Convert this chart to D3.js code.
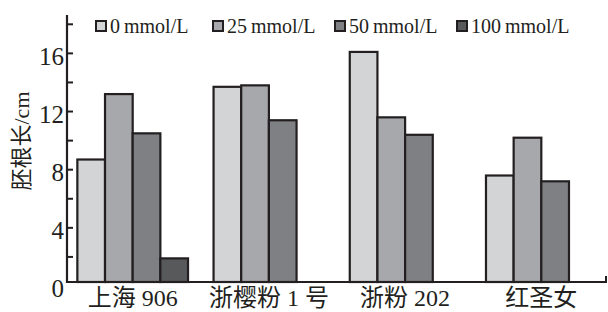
<!DOCTYPE html>
<html>
<head>
<meta charset="utf-8">
<script src="https://cdn.jsdelivr.net/npm/d3@7"></script>
<style>
  body { margin: 0; background: #fff; }
  svg { display: block; }
  text { font-family: "Liberation Serif", "Noto Sans CJK SC", serif; fill: #231f20; }
</style>
</head>
<body>
<div id="chart"></div>
<script>
// varieties along the x axis
const categories = ["上海 906", "浙樱粉 1 号", "浙粉 202", "红圣女"];
// NaCl treatments (legend)
const series = ["0\u2009mmol/L", "25\u2009mmol/L", "50\u2009mmol/L", "100\u2009mmol/L"];
// radicle length, cm, one array per treatment
const values0 = [8.7, 13.7, 16.1, 7.6];
const values25 = [13.2, 13.8, 11.6, 10.2];
const values50 = [10.5, 11.4, 10.4, 7.2];
const values100 = [1.9, 0, 0, 0];
const majorTicks = [0, 4, 8, 12, 16];
const minorTicks = [2, 6, 10, 14, 18];

const fills = ["#d3d4d6", "#a7a8ab", "#7f8084", "#58595b"];
const ink = "#231f20";

const width = 608, height = 312;
const axisX = 67, baseY = 282;

const svg = d3.select("#chart").append("svg")
    .attr("width", width)
    .attr("height", height);

let allValues = [values0, values25, values50, values100];

// bars sit on the drawn axis, which is a touch above the true zero of the scale
let y = d3.scaleLinear().domain([0, 18]).range([286, 24.3]);

let x = d3.scaleBand()
    .domain(categories)
    .range([axisX, 607])
    .paddingInner(0.1875)
    .paddingOuter(0.076);

let xSub = d3.scaleBand()
    .domain(d3.range(series.length))
    .range([0, x.bandwidth()]);

// bars
let groups = svg.append("g").attr("class", "bars")
    .selectAll("g")
    .data(categories)
    .join("g")
    .attr("transform", d => `translate(${x(d)},0)`);

groups.selectAll("rect")
    .data((c, i) => allValues.map((vals, s) => ({ s: s, v: vals[i] })).filter(d => d.v > 0))
    .join("rect")
    .attr("x", d => xSub(d.s))
    .attr("y", d => y(d.v))
    .attr("width", xSub.bandwidth())
    .attr("height", d => baseY - y(d.v))
    .attr("fill", d => fills[d.s])
    .attr("stroke", ink)
    .attr("stroke-width", 2.2);

// y axis
let yAxis = svg.append("g").attr("class", "y-axis");
yAxis.append("line")
    .attr("x1", axisX).attr("x2", axisX)
    .attr("y1", 15).attr("y2", baseY + 1)
    .attr("stroke", ink).attr("stroke-width", 2.2);

yAxis.selectAll("line.tick")
    .data(majorTicks.filter(t => t > 0).concat(minorTicks))
    .join("line")
    .attr("class", "tick")
    .attr("x1", axisX).attr("x2", axisX + 6)
    .attr("y1", d => y(d)).attr("y2", d => y(d))
    .attr("stroke", ink).attr("stroke-width", 2);

yAxis.selectAll("text")
    .data(majorTicks)
    .join("text")
    .attr("x", axisX - 3)
    .attr("y", d => y(d) + 3)
    .attr("dy", "0.33em")
    .attr("text-anchor", "end")
    .attr("font-size", 25)
    .text(d => d);

svg.append("text")
    .attr("transform", "translate(29,141) rotate(-90)")
    .attr("text-anchor", "middle")
    .attr("font-size", 22)
    .text("胚根长/cm");

// x axis
let xAxis = svg.append("g").attr("class", "x-axis");
xAxis.append("line")
    .attr("x1", axisX - 1).attr("x2", 607)
    .attr("y1", baseY).attr("y2", baseY)
    .attr("stroke", ink).attr("stroke-width", 2.2);
xAxis.append("line")
    .attr("x1", 606).attr("x2", 606)
    .attr("y1", baseY - 6).attr("y2", baseY)
    .attr("stroke", ink).attr("stroke-width", 2);

xAxis.selectAll("text")
    .data(categories)
    .join("text")
    .attr("x", d => x(d) + x.bandwidth() / 2)
    .attr("y", 306)
    .attr("text-anchor", "middle")
    .attr("font-size", 24)
    .text(d => d);

// legend
let legendX = [96, 213, 335, 457];
let legend = svg.append("g").attr("class", "legend")
    .selectAll("g")
    .data(series)
    .join("g")
    .attr("transform", (d, i) => `translate(${legendX[i]},21)`);

legend.append("rect")
    .attr("width", 10).attr("height", 10)
    .attr("fill", (d, i) => fills[i])
    .attr("stroke", ink).attr("stroke-width", 2);

legend.append("text")
    .attr("x", 14)
    .attr("y", 12)
    .attr("font-size", 20)
    .text(d => d);
</script>
</body>
</html>
